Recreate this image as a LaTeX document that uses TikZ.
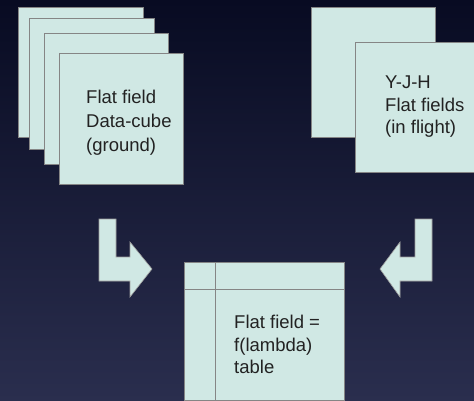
\documentclass[tikz,border=0pt]{standalone}
\usepackage{fontspec}
\setmainfont{Liberation Sans}
\definecolor{bgtop}{HTML}{080B22}
\definecolor{bgbot}{HTML}{2A2E4E}
\definecolor{boxfill}{HTML}{D0E8E4}
\definecolor{boxline}{HTML}{858585}
\definecolor{txt}{HTML}{222222}
\begin{document}
\begin{tikzpicture}[x=1pt,y=-1pt,
  card/.style={fill=boxfill,draw=boxline,line width=1pt},
  bentarrow/.style={fill=boxfill,draw=boxline!80,line width=0.6pt},
  label/.style={anchor=north west,inner sep=0pt,align=left,text=txt,
    font=\fontsize{18.5}{22.4}\selectfont}]
\shade[top color=bgtop,bottom color=bgbot] (0,0) rectangle (474,401);
\useasboundingbox (0,0) rectangle (474,401);
% left stack
\draw[card] (18,8) rectangle (143,138);
\draw[card] (29,19) rectangle (154,150);
\draw[card] (44,34) rectangle (168,165);
\draw[card] (59,54) rectangle (183,184);
\node[label,font=\fontsize{18.5}{24}\selectfont] (ground) at (86,90) {Flat field\\Data-cube\\(ground)};
% right stack
\draw[card] (311,8) rectangle (435,138);
\draw[card] (355,43) rectangle (480,173);
\node[label] (flight) at (385,76) {Y-J-H\\Flat fields\\(in flight)};
% table
\draw[card] (184,262) rectangle (344,400);
\draw[boxline,line width=1pt] (184,289) -- (344,289);
\draw[boxline,line width=1pt] (215,262) -- (215,400);
\node[label] (table) at (234,315) {Flat field =\\f(lambda)\\table};
% bent arrows
\draw[bentarrow] (99,219) -- (116,219) -- (116,257) -- (130,257) -- (130,242)
  -- (152,269) -- (130,297) -- (130,281) -- (99,281) -- cycle;
\draw[bentarrow] (432,219) -- (415,219) -- (415,257) -- (400,257) -- (400,242)
  -- (380,269) -- (400,297) -- (400,281) -- (432,281) -- cycle;
\end{tikzpicture}
\end{document}
